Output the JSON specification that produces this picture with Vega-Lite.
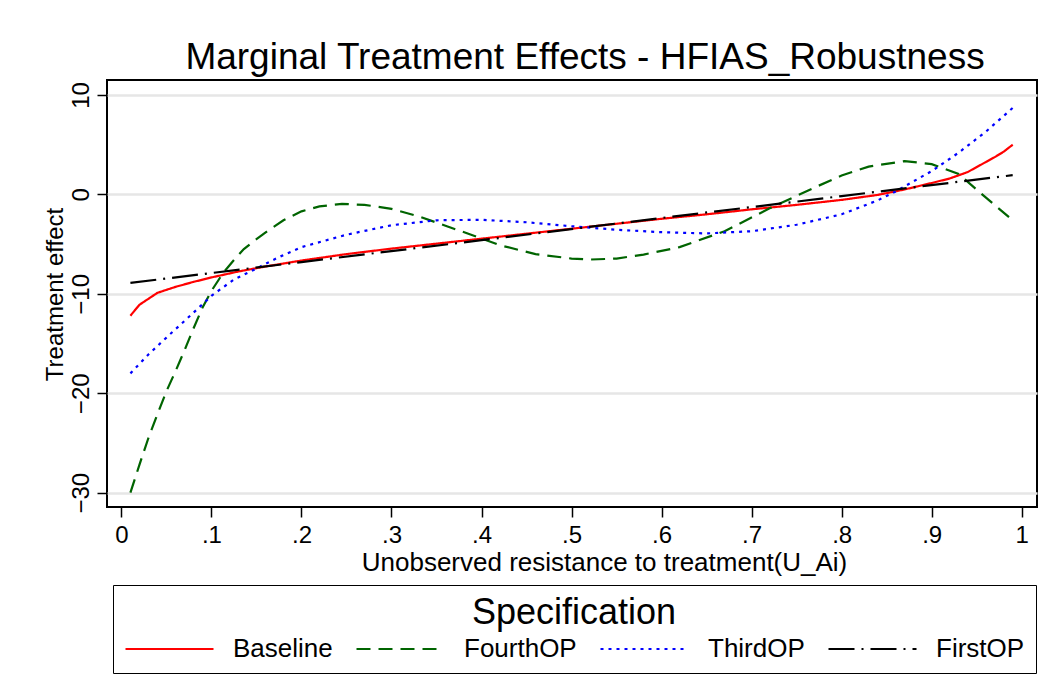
{
  "$schema": "https://vega.github.io/schema/vega-lite/v6.json",
  "autosize": "none",
  "width": 930,
  "height": 427,
  "padding": {"left": 107, "top": 80, "right": 14, "bottom": 190},
  "background": "white",
  "config": {
    "font": "Liberation Sans",
    "view": {"stroke": "black", "strokeWidth": 2},
    "axis": {"labelColor": "black", "titleColor": "black", "tickColor": "black", "labelFont": "Liberation Sans", "titleFont": "Liberation Sans", "titleFontWeight": "normal"},
    "legend": {"labelFont": "Liberation Sans", "titleFont": "Liberation Sans"}
  },
  "title": {
    "text": "Marginal Treatment Effects - HFIAS_Robustness",
    "fontSize": 37,
    "fontWeight": "normal",
    "color": "black",
    "anchor": "middle",
    "offset": 3,
    "dx": 13
  },
  "data": {
    "values": [
      {"u": 0.01, "te": -12.2, "spec": "Baseline"},
      {"u": 0.02, "te": -11.1, "spec": "Baseline"},
      {"u": 0.03, "te": -10.5, "spec": "Baseline"},
      {"u": 0.04, "te": -9.9, "spec": "Baseline"},
      {"u": 0.06, "te": -9.3, "spec": "Baseline"},
      {"u": 0.08, "te": -8.8, "spec": "Baseline"},
      {"u": 0.10, "te": -8.35, "spec": "Baseline"},
      {"u": 0.13, "te": -7.75, "spec": "Baseline"},
      {"u": 0.16, "te": -7.25, "spec": "Baseline"},
      {"u": 0.20, "te": -6.65, "spec": "Baseline"},
      {"u": 0.25, "te": -6.0, "spec": "Baseline"},
      {"u": 0.30, "te": -5.45, "spec": "Baseline"},
      {"u": 0.35, "te": -4.95, "spec": "Baseline"},
      {"u": 0.40, "te": -4.45, "spec": "Baseline"},
      {"u": 0.45, "te": -3.95, "spec": "Baseline"},
      {"u": 0.50, "te": -3.45, "spec": "Baseline"},
      {"u": 0.55, "te": -2.95, "spec": "Baseline"},
      {"u": 0.60, "te": -2.45, "spec": "Baseline"},
      {"u": 0.65, "te": -2.0, "spec": "Baseline"},
      {"u": 0.70, "te": -1.5, "spec": "Baseline"},
      {"u": 0.75, "te": -1.05, "spec": "Baseline"},
      {"u": 0.80, "te": -0.55, "spec": "Baseline"},
      {"u": 0.84, "te": -0.05, "spec": "Baseline"},
      {"u": 0.87, "te": 0.5, "spec": "Baseline"},
      {"u": 0.90, "te": 1.15, "spec": "Baseline"},
      {"u": 0.92, "te": 1.6, "spec": "Baseline"},
      {"u": 0.94, "te": 2.25, "spec": "Baseline"},
      {"u": 0.96, "te": 3.25, "spec": "Baseline"},
      {"u": 0.97, "te": 3.75, "spec": "Baseline"},
      {"u": 0.98, "te": 4.3, "spec": "Baseline"},
      {"u": 0.99, "te": 5.0, "spec": "Baseline"},

      {"u": 0.01, "te": -30.0, "spec": "FourthOP"},
      {"u": 0.02, "te": -27.2, "spec": "FourthOP"},
      {"u": 0.03, "te": -24.5, "spec": "FourthOP"},
      {"u": 0.04, "te": -22.1, "spec": "FourthOP"},
      {"u": 0.05, "te": -19.8, "spec": "FourthOP"},
      {"u": 0.06, "te": -17.8, "spec": "FourthOP"},
      {"u": 0.07, "te": -15.7, "spec": "FourthOP"},
      {"u": 0.08, "te": -13.5, "spec": "FourthOP"},
      {"u": 0.09, "te": -11.4, "spec": "FourthOP"},
      {"u": 0.10, "te": -9.7, "spec": "FourthOP"},
      {"u": 0.113, "te": -7.9, "spec": "FourthOP"},
      {"u": 0.125, "te": -6.6, "spec": "FourthOP"},
      {"u": 0.136, "te": -5.5, "spec": "FourthOP"},
      {"u": 0.15, "te": -4.5, "spec": "FourthOP"},
      {"u": 0.162, "te": -3.69, "spec": "FourthOP"},
      {"u": 0.18, "te": -2.6, "spec": "FourthOP"},
      {"u": 0.20, "te": -1.7, "spec": "FourthOP"},
      {"u": 0.22, "te": -1.2, "spec": "FourthOP"},
      {"u": 0.245, "te": -0.95, "spec": "FourthOP"},
      {"u": 0.27, "te": -1.05, "spec": "FourthOP"},
      {"u": 0.30, "te": -1.45, "spec": "FourthOP"},
      {"u": 0.33, "te": -2.2, "spec": "FourthOP"},
      {"u": 0.36, "te": -3.15, "spec": "FourthOP"},
      {"u": 0.39, "te": -4.1, "spec": "FourthOP"},
      {"u": 0.42, "te": -5.1, "spec": "FourthOP"},
      {"u": 0.46, "te": -6.0, "spec": "FourthOP"},
      {"u": 0.50, "te": -6.45, "spec": "FourthOP"},
      {"u": 0.52, "te": -6.55, "spec": "FourthOP"},
      {"u": 0.55, "te": -6.45, "spec": "FourthOP"},
      {"u": 0.58, "te": -6.05, "spec": "FourthOP"},
      {"u": 0.62, "te": -5.3, "spec": "FourthOP"},
      {"u": 0.67, "te": -3.7, "spec": "FourthOP"},
      {"u": 0.72, "te": -1.4, "spec": "FourthOP"},
      {"u": 0.77, "te": 0.7, "spec": "FourthOP"},
      {"u": 0.80, "te": 1.9, "spec": "FourthOP"},
      {"u": 0.83, "te": 2.8, "spec": "FourthOP"},
      {"u": 0.87, "te": 3.35, "spec": "FourthOP"},
      {"u": 0.90, "te": 3.05, "spec": "FourthOP"},
      {"u": 0.93, "te": 2.05, "spec": "FourthOP"},
      {"u": 0.96, "te": -0.3, "spec": "FourthOP"},
      {"u": 0.99, "te": -2.6, "spec": "FourthOP"},

      {"u": 0.01, "te": -18.0, "spec": "ThirdOP"},
      {"u": 0.03, "te": -16.1, "spec": "ThirdOP"},
      {"u": 0.05, "te": -14.4, "spec": "ThirdOP"},
      {"u": 0.08, "te": -11.9, "spec": "ThirdOP"},
      {"u": 0.10, "te": -10.2, "spec": "ThirdOP"},
      {"u": 0.125, "te": -8.55, "spec": "ThirdOP"},
      {"u": 0.15, "te": -7.45, "spec": "ThirdOP"},
      {"u": 0.175, "te": -6.3, "spec": "ThirdOP"},
      {"u": 0.20, "te": -5.3, "spec": "ThirdOP"},
      {"u": 0.25, "te": -4.05, "spec": "ThirdOP"},
      {"u": 0.30, "te": -3.1, "spec": "ThirdOP"},
      {"u": 0.35, "te": -2.6, "spec": "ThirdOP"},
      {"u": 0.40, "te": -2.55, "spec": "ThirdOP"},
      {"u": 0.45, "te": -2.8, "spec": "ThirdOP"},
      {"u": 0.50, "te": -3.2, "spec": "ThirdOP"},
      {"u": 0.55, "te": -3.55, "spec": "ThirdOP"},
      {"u": 0.60, "te": -3.8, "spec": "ThirdOP"},
      {"u": 0.65, "te": -3.92, "spec": "ThirdOP"},
      {"u": 0.70, "te": -3.7, "spec": "ThirdOP"},
      {"u": 0.75, "te": -3.05, "spec": "ThirdOP"},
      {"u": 0.80, "te": -2.0, "spec": "ThirdOP"},
      {"u": 0.84, "te": -0.6, "spec": "ThirdOP"},
      {"u": 0.86, "te": 0.3, "spec": "ThirdOP"},
      {"u": 0.90, "te": 2.35, "spec": "ThirdOP"},
      {"u": 0.93, "te": 4.2, "spec": "ThirdOP"},
      {"u": 0.96, "te": 6.3, "spec": "ThirdOP"},
      {"u": 0.99, "te": 8.7, "spec": "ThirdOP"},

      {"u": 0.01, "te": -8.9, "spec": "FirstOP"},
      {"u": 0.20, "te": -6.8, "spec": "FirstOP"},
      {"u": 0.40, "te": -4.6, "spec": "FirstOP"},
      {"u": 0.60, "te": -2.37, "spec": "FirstOP"},
      {"u": 0.80, "te": -0.17, "spec": "FirstOP"},
      {"u": 0.99, "te": 1.94, "spec": "FirstOP"}
    ]
  },
  "mark": {"type": "line", "strokeWidth": 2.2, "strokeCap": "butt", "clip": true},
  "encoding": {
    "x": {
      "field": "u", "type": "quantitative",
      "scale": {"domain": [-0.016, 1.017], "nice": false, "zero": false},
      "axis": {
        "values": [0, 0.1, 0.2, 0.3, 0.4, 0.5, 0.6, 0.7, 0.8, 0.9, 1],
        "labelExpr": "replace(format(datum.value, '.1~f'), '0.', '.')",
        "grid": false, "domain": false,
        "tickSize": 10, "tickWidth": 1.5,
        "labelFontSize": 24, "labelPadding": 6, "labelFlush": false,
        "title": "Unobserved resistance to treatment(U_Ai)",
        "titleFontSize": 26, "titleAlign": "center",
        "titleX": 497, "titleY": 63, "titleBaseline": "alphabetic"
      }
    },
    "y": {
      "field": "te", "type": "quantitative",
      "scale": {"domain": [-31.44, 11.51], "nice": false, "zero": false},
      "axis": {
        "values": [-30, -20, -10, 0, 10],
        "grid": true, "gridColor": "#e6e6e6", "gridWidth": 2.5,
        "domain": false,
        "tickSize": 10, "tickWidth": 1.5,
        "labelFontSize": 24, "labelAngle": 270, "labelAlign": "center", "labelBaseline": "bottom", "labelPadding": 4,
        "title": "Treatment effect",
        "titleFontSize": 24, "titleAngle": 270, "titleAlign": "center", "titleBaseline": "middle",
        "titleX": -52, "titleY": 214
      }
    },
    "color": {
      "field": "spec", "type": "nominal",
      "scale": {"domain": ["Baseline", "FourthOP", "ThirdOP", "FirstOP"], "range": ["#ff0000", "#006400", "#0000ff", "#000000"]},
      "legend": {
        "title": "Specification", "orient": "none", "legendX": 6, "legendY": 505,
        "direction": "horizontal", "columns": 4, "columnPadding": 22,
        "symbolType": "stroke", "symbolSize": 7744, "symbolStrokeWidth": 2.2, "clipHeight": 26,
        "labelFontSize": 26, "labelOffset": 18, "labelColor": "black",
        "titleFontSize": 36, "titleFontWeight": "normal", "titleColor": "black", "titleAnchor": "middle", "titlePadding": 4, "titleLimit": 800,
        "padding": 11, "strokeColor": "black", "fillColor": "white"
      }
    },
    "strokeDash": {
      "field": "spec", "type": "nominal",
      "scale": {"domain": ["Baseline", "FourthOP", "ThirdOP", "FirstOP"], "range": [[1, 0], [14, 8], [3, 5], [26, 7, 2, 7]]},
      "legend": {
        "title": "Specification", "orient": "none", "legendX": 6, "legendY": 505,
        "direction": "horizontal", "columns": 4, "columnPadding": 22,
        "symbolType": "stroke", "symbolSize": 7744, "symbolStrokeWidth": 2.2, "clipHeight": 26,
        "labelFontSize": 26, "labelOffset": 18, "labelColor": "black",
        "titleFontSize": 36, "titleFontWeight": "normal", "titleColor": "black", "titleAnchor": "middle", "titlePadding": 4, "titleLimit": 800,
        "padding": 11, "strokeColor": "black", "fillColor": "white"
      }
    }
  }
}
